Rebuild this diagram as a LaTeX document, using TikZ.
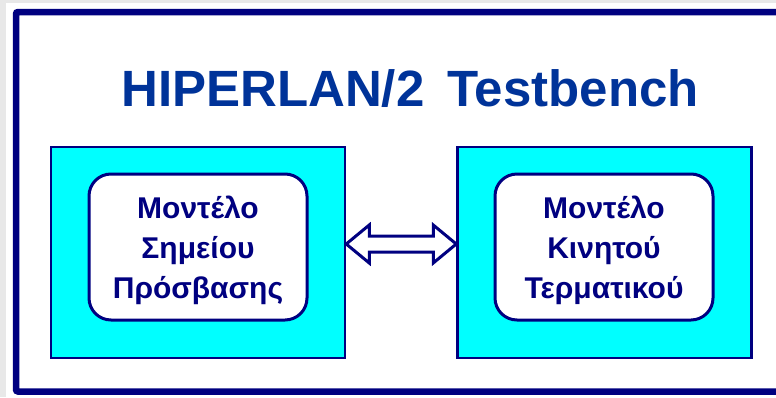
\documentclass[tikz,border=0pt]{standalone}
\usepackage{fontspec}
\setmainfont{Liberation Sans}
\usetikzlibrary{calc}
\definecolor{navy}{HTML}{000080}
\definecolor{titleblue}{HTML}{003399}
\definecolor{aqua}{HTML}{00FFFF}
\definecolor{edgegray}{HTML}{E8E8E8}
\tikzset{
  modelbox/.style={draw=navy, line width=2.5pt, fill=aqua, minimum width=294pt, minimum height=211pt, inner sep=0pt},
  innerbox/.style={draw=navy, line width=3pt, fill=white, rounded corners=22pt, minimum width=218pt, minimum height=146pt, inner sep=0pt},
  label/.style={text=navy, font=\bfseries\fontsize{30}{40}\selectfont, align=center},
  link/.style={draw=navy, line width=3pt, fill=white, line join=miter}
}
\begin{document}
\begin{tikzpicture}[x=1pt,y=-1pt]
  \useasboundingbox (0,0) rectangle (776,397);
  \begin{scope}
    \clip (0,0) rectangle (776,397);
    \fill[edgegray] (0,0) rectangle (776,397);
    \fill[white] (6,3) rectangle (776,397);
    % outer frame, running past the right edge
    \draw[navy, line width=6.5pt, rounded corners=2pt] (16,12) rectangle (800,391.5);
  \end{scope}
  \node[text=titleblue, font=\bfseries\fontsize{51}{60}\selectfont, anchor=base] (title) at (410,106) {HIPERLAN/2\hspace{0.45em}Testbench};
  \node[modelbox] (L) at (198,252.5) {};
  \node[modelbox] (R) at (604.5,252.5) {};
  \node[innerbox] (Li) at (198,247) {};
  \node[innerbox] (Ri) at (604,247) {};
  \node[label] at ($(Li.center)+(0,3)$) {Μοντέλο\\Σημείου\\Πρόσβασης};
  \node[label] at ($(Ri.center)+(0,3)$) {Μοντέλο\\Κινητού\\Τερματικού};
  % two-headed block arrow between the boxes
  \coordinate (a) at (L.east |- 0,244);
  \coordinate (b) at (R.west |- 0,244);
  \path[link] (a) -- ++(23,-19) -- ++(0,11) -- ($(b)+(-23,-8)$) -- ++(0,-11) -- (b)
    -- ++(-23,19) -- ++(0,-11) -- ($(a)+(23,8)$) -- ++(0,11) -- cycle;
\end{tikzpicture}
\end{document}
